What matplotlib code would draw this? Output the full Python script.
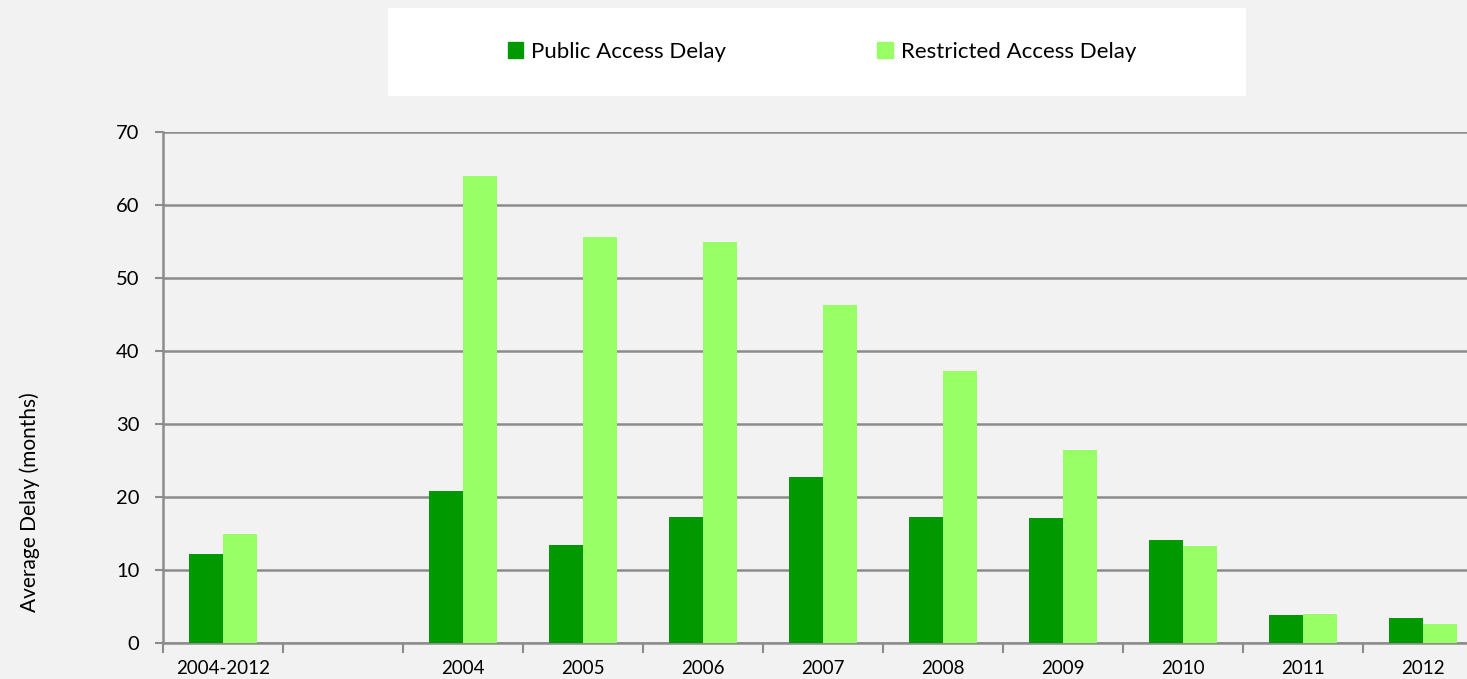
import numpy as np
import matplotlib
matplotlib.use('Agg')
import matplotlib.pyplot as plt
from matplotlib.patches import Rectangle, Patch

# 데이터
categories = ['2004-2012', '', '2004', '2005', '2006', '2007', '2008', '2009', '2010', '2011', '2012']
public_delay = [12.2, np.nan, 20.8, 13.4, 17.3, 22.7, 17.2, 17.1, 14.1, 3.9, 3.4]
restricted_delay = [14.9, np.nan, 64.0, 55.6, 55.0, 46.3, 37.3, 26.4, 13.3, 4.0, 2.6]
y_ticks = [0, 10, 20, 30, 40, 50, 60, 70]

dark_green = '#009900'
light_green = '#99FF66'
grid_grey = '#8C8C8C'
bg = '#F2F2F2'

plt.rcParams['font.family'] = ['Lato', 'DejaVu Sans']

W, H = 1467, 679
fig = plt.figure(figsize=(W / 100, H / 100), dpi=100, facecolor=bg)

# axes runs past the right edge like the original
ax = fig.add_axes([163 / W, 1 - 643 / H, 1320 / W, 511 / H])
ax.set_facecolor(bg)

x = np.arange(len(categories))
w = 34 / 120
ax.bar(x - w / 2, public_delay, width=w, color=dark_green, label='Public Access Delay', zorder=3)
ax.bar(x + w / 2, restricted_delay, width=w, color=light_green, label='Restricted Access Delay', zorder=3)

ax.set_xlim(-0.5, len(categories) - 0.5)
ax.set_ylim(0, 70)
ax.set_yticks(y_ticks)
ax.tick_params(axis='y', length=6, width=1.5, color=grid_grey, labelsize=14.5, pad=11)
ax.yaxis.grid(True, color=grid_grey, linewidth=1.8, zorder=0)

# category ticks between slots, labels at slot centres
ax.set_xticks(np.arange(len(categories) + 1) - 0.5)
ax.set_xticklabels([])
ax.set_xticks(x, minor=True)
ax.set_xticklabels(categories, minor=True, fontsize=13.5)
ax.tick_params(axis='x', which='major', length=7, width=1.5, color=grid_grey)
ax.tick_params(axis='x', which='minor', length=0, pad=12)

for side in ['top', 'right']:
    ax.spines[side].set_visible(False)
for side in ['left', 'bottom']:
    ax.spines[side].set_color(grid_grey)
    ax.spines[side].set_linewidth(1.8)

fig.text(30 / W, 1 - 502 / H, 'Average Delay (months)', rotation=90,
         ha='center', va='center', fontsize=15)

# 범례 box
fig.patches.append(Rectangle((388 / W, 1 - 96 / H), 858 / W, 88 / H,
                             transform=fig.transFigure, facecolor='white',
                             edgecolor='none', zorder=0))
handles = [Patch(color=dark_green, label='Public Access Delay'),
           Patch(color=light_green, label='Restricted Access Delay')]
fig.legend(handles=handles, loc='center', bbox_to_anchor=(822 / W, 1 - 52 / H),
           ncol=2, frameon=False, fontsize=16, handlelength=0.7,
           handleheight=0.75, handletextpad=0.35, columnspacing=6.8)

plt.savefig('out.png', dpi=100, facecolor=bg)
